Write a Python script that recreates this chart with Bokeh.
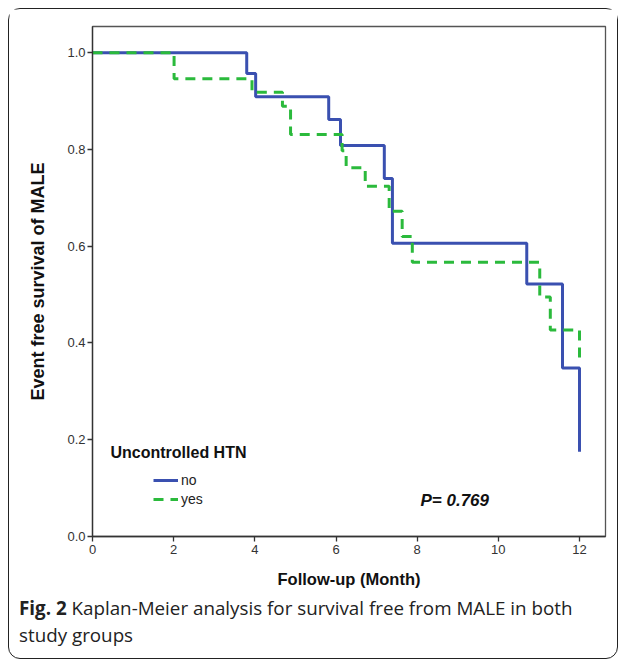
from bokeh.plotting import figure
from bokeh.layouts import column
from bokeh.models import Range1d, FixedTicker, Label, Legend, LegendItem, CustomJSTickFormatter, Div
from bokeh.embed import file_html
from bokeh.resources import INLINE

# ---- data ----
months_no = [0.0, 3.80, 4.02, 5.82, 6.11, 7.19, 7.39, 10.70, 11.58, 12.0]
surv_no = [1.0, 0.957, 0.909, 0.862, 0.808, 0.740, 0.606, 0.522, 0.348, 0.175]

months_yes = [0.0, 2.01, 3.93, 4.68, 4.88, 6.15, 6.25, 6.72, 7.31, 7.63, 7.88, 11.02, 11.28, 12.0]
surv_yes = [1.0, 0.946, 0.918, 0.889, 0.831, 0.797, 0.762, 0.724, 0.672, 0.620, 0.567, 0.495, 0.427, 0.36]

x_ticks = [0, 2, 4, 6, 8, 10, 12]
y_ticks = [0.0, 0.2, 0.4, 0.6, 0.8, 1.0]

BLUE = "#3A50B0"
GREEN = "#2BBA3C"
AXFONT = "Liberation Sans"

p = figure(width=608, height=585, output_backend="svg", toolbar_location=None,
           x_range=Range1d(0, 12.64), y_range=Range1d(0, 1.054),
           min_border_left=83, min_border_top=17, min_border_right=12, min_border_bottom=58)

p.xgrid.visible = False
p.ygrid.visible = False
p.outline_line_color = "#555555"
p.outline_line_width = 1.3

for ax in (p.xaxis[0], p.yaxis[0]):
    ax.axis_line_color = "#333333"
    ax.axis_line_width = 1.3
    ax.major_tick_line_color = "#333333"
    ax.major_tick_line_width = 1.3
    ax.major_tick_in = 0
    ax.major_tick_out = 5
    ax.minor_tick_line_color = None
    ax.major_label_text_font = AXFONT
    ax.major_label_text_font_size = "13px"
    ax.major_label_text_color = "#333333"
    ax.axis_label_text_font = AXFONT
    ax.axis_label_text_font_style = "bold"
    ax.axis_label_text_color = "#111111"

p.xaxis.axis_label_text_font_size = "16.5px"
p.yaxis.axis_label_text_font_size = "18px"
p.xaxis.ticker = FixedTicker(ticks=x_ticks)
p.yaxis.ticker = FixedTicker(ticks=y_ticks)
p.yaxis.formatter = CustomJSTickFormatter(code="return tick.toFixed(1);")
p.xaxis.axis_label = "Follow-up (Month)"
p.yaxis.axis_label = "Event free survival of MALE"
p.xaxis.major_label_standoff = 3
p.yaxis.major_label_standoff = 2
p.xaxis.axis_label_standoff = 13
p.yaxis.axis_label_standoff = 16

r_no = p.step(months_no, surv_no, mode="after", line_color=BLUE, line_width=3)
r_yes = p.step(months_yes, surv_yes, mode="after", line_color=GREEN, line_width=3,
               line_dash="10 7")

legend = Legend(items=[LegendItem(label="no", renderers=[r_no]),
                       LegendItem(label="yes", renderers=[r_yes])],
                location=(61, 28))
legend.background_fill_alpha = 0
legend.border_line_alpha = 0
legend.padding = 0
legend.margin = 0
legend.spacing = 1
legend.glyph_width = 25
legend.glyph_height = 18
legend.label_height = 18
legend.label_standoff = 3
legend.label_text_font = AXFONT
legend.label_text_font_size = "14px"
legend.label_text_color = "#222222"
p.add_layout(legend)

p.add_layout(Label(x=18, y=84, x_units="screen", y_units="screen", text="Uncontrolled HTN",
                   text_font=AXFONT, text_font_style="bold", text_font_size="16px",
                   text_baseline="middle", text_color="#111111"))
p.add_layout(Label(x=328, y=36, x_units="screen", y_units="screen", text="P= 0.769",
                   text_font=AXFONT, text_font_style="bold italic", text_font_size="17px",
                   text_baseline="middle", text_color="#111111"))

caption = Div(text="<b>Fig. 2</b> Kaplan-Meier analysis for survival free from MALE in both<br>study groups",
              width=608, height=64, margin=0,
              styles={"font-family": "'Open Sans'", "font-size": "18.8px", "line-height": "27px",
                      "color": "#222222", "padding-left": "10px", "padding-top": "1px",
                      "box-sizing": "border-box", "white-space": "nowrap"})

layout = column(p, caption, spacing=0,
                styles={"border": "1.5px solid #222222", "border-radius": "12px",
                        "margin": "8px"})

open("out.html", "w").write(file_html(layout, INLINE))
